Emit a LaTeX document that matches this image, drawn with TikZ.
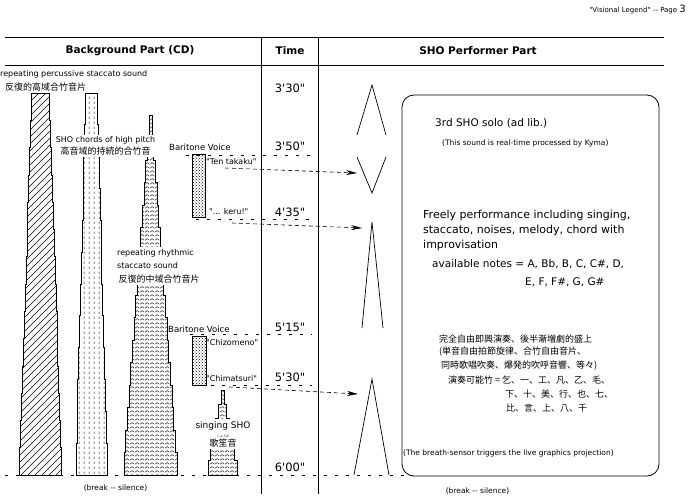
\documentclass[tikz,border=0pt]{standalone}
\usepackage{fontspec}
\setmainfont{DejaVu Sans}[Ligatures=TeXOff]
\newfontfamily\jpfont{Noto Sans CJK JP}
\usetikzlibrary{patterns, arrows.meta, positioning}

% fill patterns of the CD layers
\pgfdeclarepatternformonly{wide hatch}{\pgfqpoint{-1pt}{-1pt}}{\pgfqpoint{8pt}{8pt}}{\pgfqpoint{7pt}{7pt}}{%
  \pgfsetlinewidth{0.6pt}%
  \pgfpathmoveto{\pgfqpoint{0pt}{0pt}}%
  \pgfpathlineto{\pgfqpoint{7.1pt}{7.1pt}}%
  \pgfusepath{stroke}}
\pgfdeclarepatternformonly{dashed rules}{\pgfqpoint{0pt}{0pt}}{\pgfqpoint{4.5pt}{4.5pt}}{\pgfqpoint{4.5pt}{4.5pt}}{%
  \pgfsetlinewidth{0.6pt}%
  \pgfpathmoveto{\pgfqpoint{2.25pt}{0pt}}%
  \pgfpathlineto{\pgfqpoint{2.25pt}{2.5pt}}%
  \pgfusepath{stroke}}
\pgfdeclarepatternformonly{zigzag}{\pgfqpoint{0pt}{0pt}}{\pgfqpoint{5pt}{4pt}}{\pgfqpoint{5pt}{4pt}}{%
  \pgfsetlinewidth{0.5pt}%
  \pgfpathmoveto{\pgfqpoint{0pt}{1pt}}%
  \pgfpathlineto{\pgfqpoint{2.5pt}{3pt}}%
  \pgfpathlineto{\pgfqpoint{5pt}{1pt}}%
  \pgfusepath{stroke}}

% stepped tower: cx, ytop, ybot, top half width, bottom half width, steps, pattern
\newcommand{\shotower}[7]{%
  \pgfmathtruncatemacro{\lastk}{#6-1}%
  \draw[tower, pattern=#7] (#1-#4, #2)
    foreach \k in {1,...,\lastk}{
      -- ({#1-#4-(#5-#4)*(\k-1)/\lastk}, {#2+(#3-#2)*\k/#6})
      -- ({#1-#4-(#5-#4)*\k/\lastk}, {#2+(#3-#2)*\k/#6})}
    -- (#1-#5, #3) -- (#1+#5, #3)
    foreach \k in {\lastk,...,1}{
      -- ({#1+#4+(#5-#4)*\k/\lastk}, {#2+(#3-#2)*\k/#6})
      -- ({#1+#4+(#5-#4)*(\k-1)/\lastk}, {#2+(#3-#2)*\k/#6})}
    -- (#1+#4, #2) -- cycle;}

\tikzset{
  rule/.style={line width=1pt},
  tower/.style={line width=0.7pt},
  lbl/.style={inner sep=0pt, font=\fontsize{8}{9.5}\selectfont},
  jlbl/.style={inner sep=0pt, font=\jpfont\fontsize{9}{11}\selectfont},
  head/.style={inner sep=0pt, font=\bfseries\fontsize{10.5}{12}\selectfont},
  timelbl/.style={inner sep=0pt, font=\fontsize{11.5}{13}\selectfont},
  boxtxt/.style={inner sep=0pt, anchor=west, font=\fontsize{11}{15}\selectfont},
  mask/.style={fill=white, inner sep=2pt},
  voicebox/.style={draw, line width=0.7pt, pattern=crosshatch dots, inner sep=0pt},
  guide/.style={dash pattern=on 3pt off 8pt, line width=0.6pt},
  cue/.style={dash pattern=on 4pt off 3pt, line width=0.6pt, -{Stealth[length=11pt, width=5pt]}},
  perf/.style={line width=0.7pt}
}

\begin{document}
\begin{tikzpicture}[x=1pt, y=-1pt]
  \useasboundingbox (0,0) rectangle (688,496);

  % page label
  \node[lbl, anchor=east, font=\fontsize{7}{8}\selectfont] (pagelbl) at (686,10)
    {"Visional Legend" -- Page {\fontsize{10}{10}\selectfont 3}};

  % header rows and columns
  \draw[rule] (5,37) -- (664,37);
  \draw[rule] (5,65) -- (664,65);
  \draw[rule] (261,37) -- (261,494);
  \draw[rule] (318,37) -- (318,494);
  \node[head] (hbg) at (130,51) {Background Part (CD)};
  \node[head] (htime) at (290,51) {Time};
  \node[head] (hsho) at (478,51) {SHO Performer Part};

  % CD layers
  \shotower{40.5}{93}{475}{9}{21}{14}{wide hatch}
  \shotower{91.5}{93}{475}{6}{15.5}{12}{dashed rules}
  \shotower{150.5}{115}{475}{1.5}{26.5}{16}{zigzag}
  \shotower{222.5}{390}{475}{1.5}{14.5}{6}{zigzag}

  \node[lbl, anchor=west] (perc) at (0,74) {repeating percussive staccato sound};
  \node[jlbl, anchor=west] (percjp) at (5,87) {反復的高域合竹音片};
  \node[lbl, mask, align=center] (chords) at (105.5,146)
    {SHO chords of high pitch\\[2pt]{\jpfont\fontsize{9}{11}\selectfont 高音域的持続的合竹音}};
  \node[lbl, mask, align=left, anchor=west] (rhythm) at (115,266)
    {repeating rhythmic\\[4pt]staccato sound\\[4pt]{\jpfont\fontsize{9}{11}\selectfont\,反復的中域合竹音片}};
  \node[lbl, mask, align=center, font=\fontsize{9}{10}\selectfont] (singing) at (223,434)
    {singing SHO\\[-1pt]{\jpfont\fontsize{3}{3}\selectfont しょうが}\\[-1pt]{\jpfont\fontsize{9}{11}\selectfont 歌笙音}};

  % baritone voice
  \node[voicebox, minimum width=13, minimum height=63] (voice1) at (198.5,185.5) {};
  \node[voicebox, minimum width=14, minimum height=49] (voice2) at (199,360.5) {};
  \node[lbl, anchor=west, font=\fontsize{8.5}{10}\selectfont] (bari1) at (169,147) {Baritone Voice};
  \node[lbl, anchor=west] (takaku) at (206,162) {"Ten takaku"};
  \node[lbl, anchor=west] (keru) at (209,212) {"... keru!"};
  \node[lbl, anchor=west, font=\fontsize{8.5}{10}\selectfont] (bari2) at (168,329) {Baritone Voice};
  \node[lbl, anchor=west] (chizomeno) at (206,343) {"Chizomeno"};
  \node[lbl, anchor=west] (chimatsuri) at (206,379) {"Chimatsuri"};

  % time marks
  \draw[guide] (186,155) -- (312,155);
  \draw[guide] (196,219) -- (312,219);
  \draw[guide] (190,334) -- (312,334);
  \draw[guide] (200,385) -- (312,385);
  \draw[guide] (5,475) -- (410,475);
  \node[timelbl] (t330) at (290,88) {3'30"};
  \node[timelbl] (t350) at (290,146) {3'50"};
  \node[timelbl] (t435) at (290,212) {4'35"};
  \node[timelbl] (t515) at (290,327) {5'15"};
  \node[timelbl] (t530) at (290,377) {5'30"};
  \node[timelbl] (t600) at (290,467) {6'00"};

  % performer envelopes
  \coordinate (solo-top) at (372,85);
  \coordinate (solo-l) at (357,135);
  \coordinate (solo-r) at (386,135);
  \coordinate (fade-l) at (357,157);
  \coordinate (fade-r) at (386,157);
  \coordinate (fade-bot) at (372,193);
  \coordinate (free-top) at (372,222);
  \coordinate (free-l) at (362,328);
  \coordinate (free-r) at (383,328);
  \coordinate (last-top) at (372,379);
  \coordinate (last-l) at (354,475);
  \coordinate (last-r) at (389,475);
  \draw[perf] (solo-l) -- (solo-top) -- (solo-r);
  \draw[perf] (fade-l) -- (fade-bot) -- (fade-r);
  \draw[perf] (free-l) -- (free-top) -- (free-r);
  \draw[perf] (last-l) -- (last-top) -- (last-r);

  % cues from the voice
  \coordinate (cue1) at (225,168);
  \coordinate (cue2) at (232,223);
  \coordinate (cue3) at (229,387);
  \coordinate (hit1) at (357,173);
  \coordinate (hit2) at (362,228);
  \coordinate (hit3) at (358,394);
  \draw[cue] (cue1) -- (hit1);
  \draw[cue] (cue2) -- (hit2);
  \draw[cue] (cue3) -- (hit3);

  % performer box
  \node[draw, line width=0.8pt, rounded corners=12, minimum width=257, minimum height=381] (perfbox) at (530.5,285.5) {};
  \node[boxtxt, font=\fontsize{10.5}{12}\selectfont] (solo) at (435,123) {3rd SHO solo (ad lib.)};
  \node[boxtxt, font=\fontsize{7.5}{9}\selectfont] (kyma) at (442,143) {(This sound is real-time processed by Kyma)};
  \node[boxtxt, align=left] (freely) at (423,230)
    {Freely performance including singing,\\staccato, noises, melody, chord with\\improvisation};
  \node[boxtxt, font=\fontsize{10.5}{12}\selectfont] (notes) at (432,264) {available notes = A, Bb, B, C, C\#, D,};
  \node[boxtxt, font=\fontsize{10.5}{12}\selectfont] (notes2) at (525,282) {E, F, F\#, G, G\#};
  \node[jlbl, anchor=west] (jp1) at (439,339) {完全自由即興演奏、後半漸増劇的盛上};
  \node[jlbl, anchor=west] (jp2) at (439,352) {(単音自由拍節旋律、合竹自由音片、};
  \node[jlbl, anchor=west] (jp3) at (441,366) {同時歌唱吹奏、爆発的吹呼音響、等々)};
  \node[jlbl, anchor=west] (jp4) at (448,380) {演奏可能竹 = 乞、一、工、凡、乙、毛、};
  \node[jlbl, anchor=west] (jp5) at (505,394) {下、十、美、行、也、七、};
  \node[jlbl, anchor=west] (jp6) at (506,408) {比、言、上、八、千};
  \node[boxtxt, font=\fontsize{7.5}{9}\selectfont] (breath) at (403,453)
    {(The breath-sensor triggers the live graphics projection)};

  % breaks
  \node[lbl, font=\fontsize{7.5}{9}\selectfont] (break1) at (115.5,488) {(break -- silence)};
  \node[lbl, font=\fontsize{7.5}{9}\selectfont] (break2) at (477.5,491) {(break -- silence)};
\end{tikzpicture}
\end{document}
